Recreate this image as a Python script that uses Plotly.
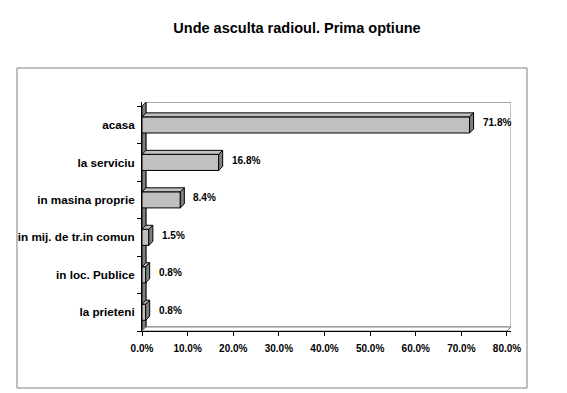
import plotly.graph_objects as go

title = "Unde asculta radioul. Prima optiune"
categories = ["acasa", "la serviciu", "in masina proprie", "in mij. de tr.in comun", "in loc. Publice", "la prieteni"]
values = [71.8, 16.8, 8.4, 1.5, 0.8, 0.8]
x_ticks = [0, 10, 20, 30, 40, 50, 60, 70, 80]
x_ticktext = [f"{t:.1f}%" for t in x_ticks]

FONT = "Arial, 'Liberation Sans', sans-serif"
BAR_W = 0.43
DX = 0.88   # depth in x (data units)
DY = 0.107  # depth in y (category units)
idx = list(range(len(categories)))

fig = go.Figure()
fig.add_trace(go.Bar(
    y=idx, x=values, orientation="h", width=BAR_W,
    marker=dict(color="#C0C0C0", line=dict(color="black", width=1)),
    hoverinfo="skip", showlegend=False,
))

shapes = []
n = len(categories)
xmax = x_ticks[-1]
# back wall
shapes.append(dict(type="path", xref="x", yref="y", layer="below",
                   path=f"M {DX},{n-0.5-DY} L {xmax+DX},{n-0.5-DY} L {xmax+DX},{-0.5-DY} L {DX},{-0.5-DY} Z",
                   fillcolor="white", line=dict(color="#808080", width=1)))
# left wall
shapes.append(dict(type="path", xref="x", yref="y", layer="below",
                   path=f"M 0,{n-0.5} L 0,-0.5 L {DX},{-0.5-DY} L {DX},{n-0.5-DY} Z",
                   fillcolor="#808080", line=dict(color="black", width=1)))
# floor
shapes.append(dict(type="path", xref="x", yref="y", layer="below",
                   path=f"M 0,{n-0.5} L {xmax},{n-0.5} L {xmax+DX},{n-0.5-DY} L {DX},{n-0.5-DY} Z",
                   fillcolor="white", line=dict(color="#808080", width=1)))
for i, v in zip(idx, values):
    top = i - BAR_W / 2
    bot = i + BAR_W / 2
    shapes.append(dict(type="path", xref="x", yref="y",
                       path=f"M 0,{top} L {v},{top} L {v+DX},{top-DY} L {DX},{top-DY} Z",
                       fillcolor="#C0C0C0", line=dict(color="black", width=1)))
    shapes.append(dict(type="path", xref="x", yref="y",
                       path=f"M {v},{top} L {v},{bot} L {v+DX},{bot-DY} L {v+DX},{top-DY} Z",
                       fillcolor="#808080", line=dict(color="black", width=1)))
# outer chart border
shapes.append(dict(type="rect", xref="paper", yref="paper",
                   x0=-0.3388, x1=1.0434, y0=-0.2489, y1=1.1485,
                   line=dict(color="#808080", width=1), layer="below"))

annotations = []
for i, v in zip(idx, values):
    annotations.append(dict(x=v + DX, y=i - DY / 2, xref="x", yref="y", text=f"{v:.1f}%",
                            showarrow=False, xanchor="left", yanchor="middle", xshift=7,
                            font=dict(family=FONT, size=10, color="black", weight="bold")))

fig.update_layout(
    width=567, height=393,
    margin=dict(l=142, r=56, t=102, b=62),
    paper_bgcolor="white", plot_bgcolor="white",
    title=dict(text=f"<b>{title}</b>", x=297 / 567, xref="container", xanchor="center",
               y=1 - 28 / 393, yref="container", yanchor="middle",
               font=dict(family=FONT, size=14.5, color="black")),
    shapes=shapes, annotations=annotations,
    showlegend=False,
    xaxis=dict(range=[0, xmax + DX], tickvals=x_ticks, ticktext=x_ticktext,
               ticks="outside", ticklen=4, tickcolor="black", showgrid=False, zeroline=False,
               showline=True, linecolor="black", linewidth=1, ticklabelstandoff=4,
               tickfont=dict(family=FONT, size=10, color="black", weight="bold")),
    yaxis=dict(range=[n - 0.5, -0.5 - DY - 0.005], tickvals=idx, ticktext=categories,
               ticks="", showgrid=False, zeroline=False,
               showline=True, linecolor="black", linewidth=1, ticklabelstandoff=4,
               minor=dict(ticks="outside", tick0=0.5, dtick=1, ticklen=4, tickcolor="black", showgrid=False),
               tickfont=dict(family=FONT, size=11.7, color="black", weight="bold")),
    bargap=0,
)

fig.write_html("out.html", config={"displayModeBar": False, "staticPlot": True},
               post_script="document.body.style.margin='0';document.body.style.overflow='hidden';")
